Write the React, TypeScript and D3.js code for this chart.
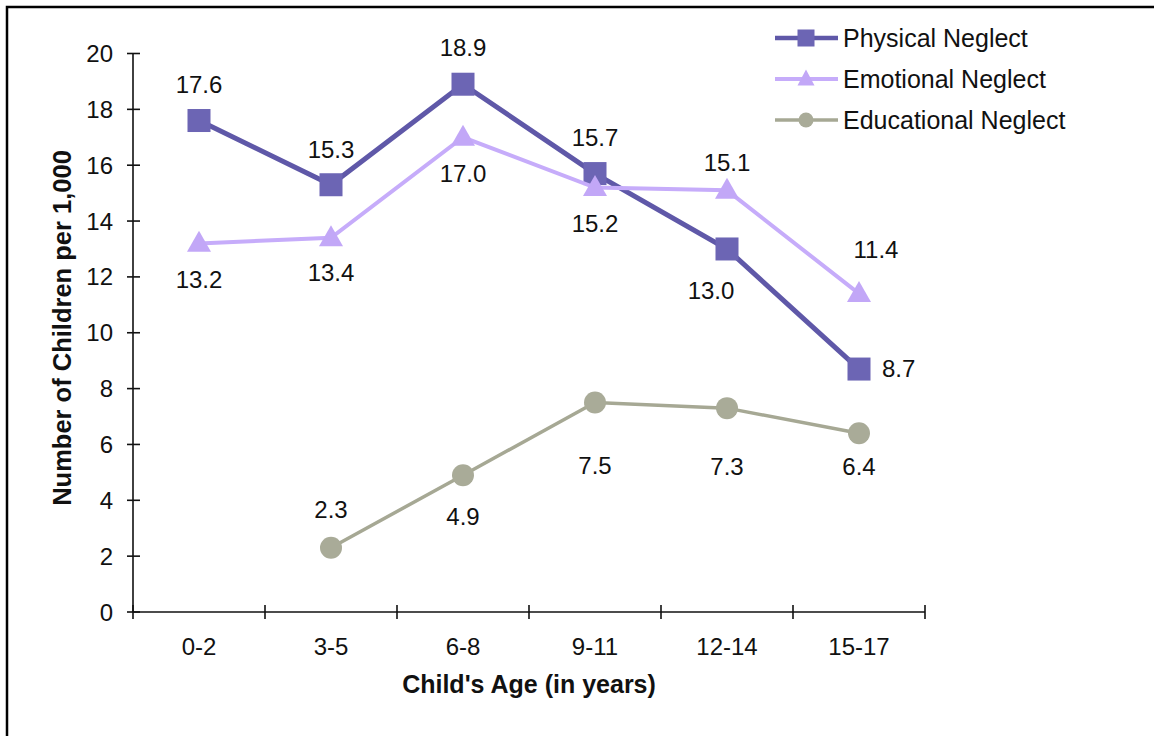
import React from "react";
import * as d3 from "d3";

const categories = ["0-2", "3-5", "6-8", "9-11", "12-14", "15-17"];
const physical: (number | null)[] = [17.6, 15.3, 18.9, 15.7, 13.0, 8.7];
const emotional: (number | null)[] = [13.2, 13.4, 17.0, 15.2, 15.1, 11.4];
const educational: (number | null)[] = [null, 2.3, 4.9, 7.5, 7.3, 6.4];
const yTicks = [0, 2, 4, 6, 8, 10, 12, 14, 16, 18, 20];
const seriesNames = ["Physical Neglect", "Emotional Neglect", "Educational Neglect"];

// label offsets (layout only): [dx, dy] from marker centre
const physLabelOff: [number, number, string][] = [
  [0, -36, "middle"], [0, -35, "middle"], [0, -37, "middle"], [0, -36, "middle"], [-16, 42, "middle"], [23, -1, "start"],
];
const emoLabelOff: [number, number, string][] = [
  [0, 36, "middle"], [0, 35, "middle"], [0, 36, "middle"], [0, 36, "middle"], [0, -28, "middle"], [17, -44, "middle"],
];
const eduLabelOff: [number, number, string][] = [
  [0, 0, "middle"], [0, -38, "middle"], [0, 41, "middle"], [0, 63, "middle"], [0, 58, "middle"], [0, 33, "middle"],
];

const FONT = "'Liberation Sans', Arial, sans-serif";

export default function App() {
  const left = 133, right = 925, top = 53.5, bottom = 612;
  const x = d3.scaleBand<string>().domain(categories).range([left, right]).padding(0);
  const y = d3.scaleLinear().domain([0, 20]).range([bottom, top]);
  const cx = (c: string) => (x(c) as number) + x.bandwidth() / 2;

  const lineGen = d3
    .line<number | null>()
    .defined((d) => d !== null)
    .x((_, i) => cx(categories[i]))
    .y((d) => y(d as number));

  const colors = {
    phys: { line: "#5f58a8", fill: "#6c65b4" },
    emo: { line: "#c6acfa", fill: "#c2a7f7" },
    edu: { line: "#a6a894", fill: "#a9ab98" },
  };

  const square = (px: number, py: number, s: number, fill: string, key: string) => (
    <rect key={key} x={px - s / 2} y={py - s / 2} width={s} height={s} fill={fill} />
  );
  const tri = (px: number, py: number, w: number, h: number, fill: string, key: string) => (
    <path key={key} d={`M${px},${py - h * 0.6}L${px + w / 2},${py + h * 0.4}L${px - w / 2},${py + h * 0.4}Z`} fill={fill} />
  );
  const circ = (px: number, py: number, r: number, fill: string, key: string) => (
    <circle key={key} cx={px} cy={py} r={r} fill={fill} />
  );

  const labels = (vals: (number | null)[], offs: [number, number, string][], k: string) =>
    vals.map((v, i) =>
      v === null ? null : (
        <text
          key={k + i}
          x={cx(categories[i]) + offs[i][0]}
          y={y(v) + offs[i][1]}
          textAnchor={offs[i][2] as any}
          dominantBaseline="central"
          fontSize={24}
          fill="#111"
        >
          {v.toFixed(1)}
        </text>
      )
    );

  const legendY = [38, 79, 120];

  return (
    <svg
      width={1154}
      height={736}
      style={{ position: "absolute", left: 0, top: 0, background: "#fff" }}
      fontFamily={FONT}
    >
      <rect x={0} y={0} width={1154} height={736} fill="#fff" />
      {/* frame */}
      <path d="M7,740L7,7L1160,7" fill="none" stroke="#000" strokeWidth={2.5} />

      {/* y axis */}
      <line x1={left} x2={left} y1={top} y2={bottom} stroke="#111" strokeWidth={1.6} />
      {yTicks.map((t) => (
        <g key={"yt" + t}>
          <line x1={left - 6} x2={left + 7} y1={y(t)} y2={y(t)} stroke="#111" strokeWidth={1.6} />
          <text x={113} y={y(t)} textAnchor="end" dominantBaseline="central" fontSize={24} fill="#111">
            {t}
          </text>
        </g>
      ))}
      {/* x axis */}
      <line x1={left} x2={right} y1={bottom} y2={bottom} stroke="#111" strokeWidth={1.6} />
      {categories.map((c, i) => (
        <line key={"xt" + i} x1={x(c) as number} x2={x(c) as number} y1={bottom - 7} y2={bottom + 7} stroke="#111" strokeWidth={1.6} />
      ))}
      <line x1={right} x2={right} y1={bottom - 7} y2={bottom + 7} stroke="#111" strokeWidth={1.6} />
      {categories.map((c) => (
        <text key={"xl" + c} x={cx(c)} y={655} textAnchor="middle" fontSize={24} fill="#111">
          {c}
        </text>
      ))}

      {/* axis titles */}
      <text x={529} y={693} textAnchor="middle" fontSize={25} fontWeight="bold" fill="#111">
        Child's Age (in years)
      </text>
      <text
        transform={`translate(71,328) rotate(-90)`}
        textAnchor="middle"
        fontSize={25.5}
        fontWeight="bold"
        fill="#111"
      >
        Number of Children per 1,000
      </text>

      {/* physical */}
      <path d={lineGen(physical) || ""} fill="none" stroke={colors.phys.line} strokeWidth={5} />
      {physical.map((v, i) => (v === null ? null : square(cx(categories[i]), y(v), 23, colors.phys.fill, "ps" + i)))}

      {/* emotional */}
      <path d={lineGen(emotional) || ""} fill="none" stroke={colors.emo.line} strokeWidth={4} />
      {emotional.map((v, i) => (v === null ? null : tri(cx(categories[i]), y(v), 24, 21, colors.emo.fill, "es" + i)))}

      {/* educational */}
      <path d={lineGen(educational) || ""} fill="none" stroke={colors.edu.line} strokeWidth={3.5} />
      {educational.map((v, i) => (v === null ? null : circ(cx(categories[i]), y(v), 11, colors.edu.fill, "ds" + i)))}

      {labels(physical, physLabelOff, "pl")}
      {labels(emotional, emoLabelOff, "el")}
      {labels(educational, eduLabelOff, "dl")}

      {/* legend */}
      <g>
        <line x1={775} x2={838} y1={legendY[0]} y2={legendY[0]} stroke={colors.phys.line} strokeWidth={4.5} />
        {square(806, legendY[0], 17, colors.phys.fill, "lg0")}
        <line x1={775} x2={838} y1={legendY[1]} y2={legendY[1]} stroke={colors.emo.line} strokeWidth={4} />
        {tri(806, legendY[1], 17, 16, colors.emo.fill, "lg1")}
        <line x1={775} x2={838} y1={legendY[2]} y2={legendY[2]} stroke={colors.edu.line} strokeWidth={3.5} />
        {circ(806, legendY[2], 7.5, colors.edu.fill, "lg2")}
        {seriesNames.map((n, i) => (
          <text key={"lt" + i} x={843} y={legendY[i]} dominantBaseline="central" fontSize={25} fill="#111">
            {n}
          </text>
        ))}
      </g>
    </svg>
  );
}
